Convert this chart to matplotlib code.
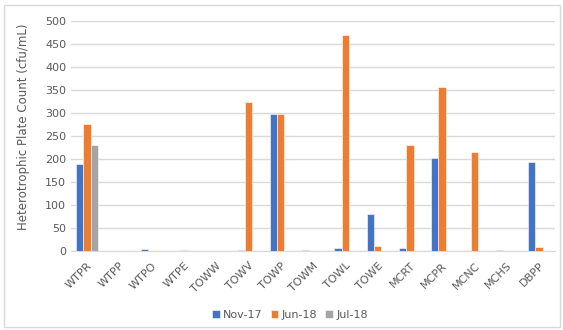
import numpy as np
import matplotlib
matplotlib.use('Agg')
from matplotlib import pyplot as plt
from matplotlib.patches import Rectangle

# Sampling sites
sites = ['WTPR', 'WTPP', 'WTPO', 'WTPE', 'TOWW', 'TOWV', 'TOWP', 'TOWM',
         'TOWL', 'TOWE', 'MCRT', 'MCPR', 'MCNC', 'MCHS', 'DBPP']

# Heterotrophic plate counts (cfu/mL) per sampling event
nov17 = [189, 0, 3, 0, 0, 2, 297, 1, 5, 81, 5, 202, 0, 1, 193]
jun18 = [276, 0, 0, 2, 0, 323, 297, 0, 470, 11, 229, 355, 215, 0, 8]
jul18 = [229, 0, 0, 0, 0, 0, 0, 0, 0, 0, 0, 0, 0, 0, 0]

series = [('Nov-17', nov17, '#4472C4'),
          ('Jun-18', jun18, '#ED7D31'),
          ('Jul-18', jul18, '#A5A5A5')]

fig = plt.figure(figsize=(5.63, 3.30), dpi=100)
ax = fig.add_axes([0.126, 0.240, 0.860, 0.697])

x = np.arange(len(sites))
w = 0.226
for i, (name, vals, col) in enumerate(series):
    ax.bar(x + (i - 1) * w, vals, width=w, color=col, label=name,
           edgecolor='white', linewidth=0.4, zorder=3)

ax.set_xlim(-0.5, len(sites) - 0.5)
ax.set_ylim(0, 500)
ax.set_yticks(np.arange(0, 501, 50))
ax.yaxis.grid(True, color='#D9D9D9', linewidth=1, zorder=0)
for s in ['top', 'right', 'left']:
    ax.spines[s].set_visible(False)
ax.spines['bottom'].set_color('#D9D9D9')
ax.tick_params(axis='both', length=0, colors='#595959', labelsize=8)
ax.set_xticks(x)
ax.set_xticklabels(sites, rotation=45, ha='right', rotation_mode='anchor')
ax.tick_params(axis='x', pad=7)
ax.set_ylabel('Heterotrophic Plate Count (cfu/mL)', fontsize=8.5,
              color='#595959')
ax.yaxis.set_label_coords(-0.085, 0.54)

fig.legend(loc='lower center', bbox_to_anchor=(0.515, 0.0), ncol=3,
           frameon=False, fontsize=8, handlelength=0.7, handleheight=0.7,
           columnspacing=0.7, handletextpad=0.3, labelcolor='#595959')

# chart area border
fig.patches.append(Rectangle((0.007, 0.008), 0.988, 0.978,
                             transform=fig.transFigure, fill=False,
                             edgecolor='#D9D9D9', linewidth=1))

plt.savefig('out.png', dpi=100)
